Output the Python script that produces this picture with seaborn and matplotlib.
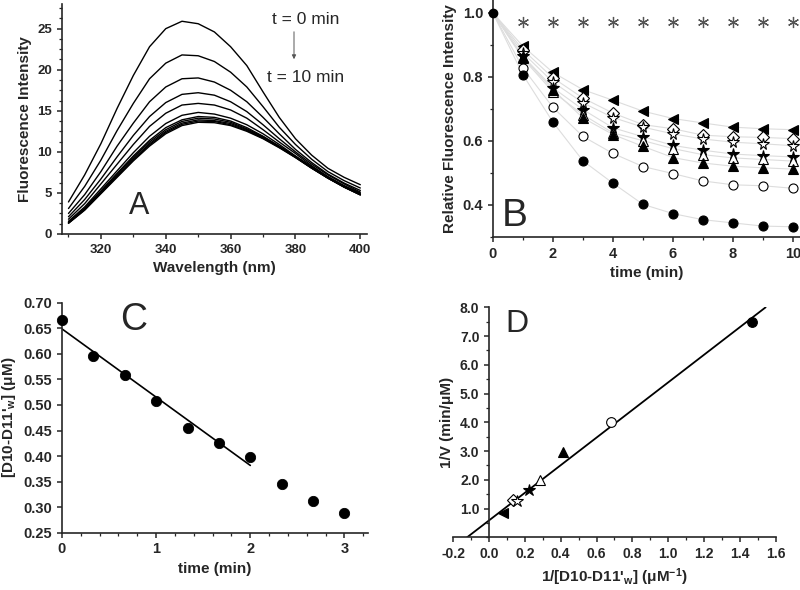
import numpy as np
import pandas as pd
import matplotlib
matplotlib.use('Agg')
import matplotlib.pyplot as plt
import seaborn as sns
from matplotlib.ticker import MultipleLocator, FormatStrFormatter

# Panel A: emission spectra, one every minute
wavelength = [310, 315, 320, 325, 330, 335, 340, 345, 350, 355, 360, 365, 370, 375, 380, 385, 390, 395, 400]
i_t0 = [3.9, 7.2, 11.0, 15.3, 19.3, 22.8, 25.0, 25.9, 25.6, 24.6, 22.8, 20.5, 17.3, 14.2, 11.6, 9.6, 8.0, 6.9, 6.0]
i_t1 = [3.1, 5.8, 9.0, 12.6, 15.9, 18.9, 20.8, 21.8, 21.7, 21.0, 19.7, 17.9, 15.5, 13.0, 10.9, 9.1, 7.6, 6.5, 5.6]
i_t2 = [2.5, 4.8, 7.6, 10.7, 13.5, 16.1, 17.9, 18.9, 19.0, 18.5, 17.5, 16.1, 14.2, 12.2, 10.3, 8.7, 7.3, 6.2, 5.3]
i_t3 = [2.1, 4.2, 6.7, 9.4, 12.0, 14.3, 16.0, 17.0, 17.2, 16.9, 16.1, 14.9, 13.3, 11.6, 10.0, 8.5, 7.2, 6.1, 5.1]
i_t4 = [1.8, 3.7, 6.1, 8.5, 10.9, 13.1, 14.7, 15.7, 15.9, 15.7, 15.1, 14.1, 12.7, 11.2, 9.8, 8.3, 7.0, 5.9, 5.0]
i_t5 = [1.55, 3.3, 5.5, 7.7, 9.9, 11.9, 13.45, 14.45, 14.8, 14.6, 14.1, 13.3, 12.2, 10.9, 9.5, 8.2, 6.9, 5.8, 4.9]
i_t6 = [1.45, 3.15, 5.25, 7.4, 9.5, 11.4, 12.95, 13.9, 14.3, 14.2, 13.75, 12.95, 11.9, 10.7, 9.45, 8.1, 6.85, 5.75, 4.8]
i_t7 = [1.4, 3.1, 5.15, 7.25, 9.35, 11.2, 12.7, 13.7, 14.1, 14.0, 13.6, 12.8, 11.85, 10.65, 9.4, 8.05, 6.85, 5.75, 4.8]
i_t8 = [1.35, 3.0, 5.05, 7.1, 9.15, 11.0, 12.5, 13.5, 13.9, 13.8, 13.45, 12.7, 11.75, 10.6, 9.35, 8.05, 6.8, 5.75, 4.8]
i_t9 = [1.33, 2.95, 4.97, 7.0, 9.0, 10.85, 12.35, 13.35, 13.75, 13.7, 13.3, 12.6, 11.65, 10.55, 9.33, 8.02, 6.81, 5.71, 4.77]
i_t10 = [1.3, 2.9, 4.9, 6.9, 8.9, 10.7, 12.2, 13.2, 13.6, 13.55, 13.2, 12.5, 11.6, 10.5, 9.3, 8.0, 6.8, 5.7, 4.75]

# Panel B: relative fluorescence vs time
time_b = [0, 1, 2, 3, 4, 5, 6, 7, 8, 9, 10]
rel_ast = [1.0, 0.971, 0.971, 0.971, 0.971, 0.971, 0.971, 0.971, 0.971, 0.971, 0.971]
rel_ltri = [1.0, 0.896, 0.814, 0.760, 0.727, 0.693, 0.670, 0.656, 0.643, 0.638, 0.635]
rel_diam = [1.0, 0.885, 0.797, 0.734, 0.687, 0.651, 0.638, 0.618, 0.613, 0.611, 0.607]
rel_ostar = [1.0, 0.875, 0.784, 0.719, 0.673, 0.643, 0.622, 0.606, 0.596, 0.591, 0.585]
rel_fstar = [1.0, 0.865, 0.766, 0.698, 0.641, 0.613, 0.586, 0.571, 0.559, 0.554, 0.550]
rel_otri = [1.0, 0.858, 0.753, 0.682, 0.625, 0.601, 0.576, 0.557, 0.547, 0.542, 0.537]
rel_ftri = [1.0, 0.862, 0.760, 0.672, 0.620, 0.583, 0.548, 0.531, 0.521, 0.516, 0.512]
rel_ocirc = [1.0, 0.828, 0.705, 0.614, 0.561, 0.520, 0.498, 0.475, 0.463, 0.460, 0.452]
rel_fcirc = [1.0, 0.807, 0.659, 0.538, 0.468, 0.402, 0.373, 0.354, 0.344, 0.334, 0.332]

# Panel C: concentration vs time
time_c = [0, 0.333, 0.667, 1.0, 1.333, 1.667, 2.0, 2.333, 2.667, 3.0]
conc_c = [0.666, 0.596, 0.558, 0.508, 0.455, 0.426, 0.398, 0.346, 0.313, 0.289]

# Panel D: double reciprocal plot (same symbols as panel B)
inv_conc = [0.079, 0.136, 0.155, 0.225, 0.284, 0.41, 0.68, 1.47]
inv_rate = [0.83, 1.29, 1.25, 1.66, 1.99, 2.97, 4.0, 7.49]
fit_slope = 4.80
fit_intercept = 0.59

sns.set_style('ticks')
plt.rcParams['font.family'] = ['Liberation Sans', 'DejaVu Sans']
plt.rcParams['font.weight'] = 'bold'
plt.rcParams['axes.labelweight'] = 'bold'
plt.rcParams['mathtext.fontset'] = 'custom'
plt.rcParams['mathtext.rm'] = 'Liberation Sans:bold'
plt.rcParams['mathtext.it'] = 'Liberation Sans:bold'
plt.rcParams['mathtext.bf'] = 'Liberation Sans:bold'
plt.rcParams['axes.linewidth'] = 1.2
plt.rcParams['xtick.major.width'] = 1.1
plt.rcParams['ytick.major.width'] = 1.1
plt.rcParams['xtick.minor.width'] = 0.9
plt.rcParams['ytick.minor.width'] = 0.9
plt.rcParams['xtick.major.size'] = 3.5
plt.rcParams['ytick.major.size'] = 3.5
plt.rcParams['xtick.minor.size'] = 2
plt.rcParams['ytick.minor.size'] = 2
plt.rcParams['xtick.direction'] = 'out'
plt.rcParams['ytick.direction'] = 'out'

fig = plt.figure(figsize=(8, 5.9), dpi=100)
axA = fig.add_axes([0.0775, 0.6034, 0.381, 0.3898])
axB = fig.add_axes([0.616, 0.5983, 0.384, 0.4017])
axC = fig.add_axes([0.0775, 0.0971, 0.3825, 0.3897])
axD = fig.add_axes([0.5666, 0.0893, 0.403, 0.3898])

for ax in (axA, axB, axC, axD):
    ax.spines['top'].set_visible(False)
    ax.spines['right'].set_visible(False)
    ax.set_facecolor('none')

# ---- A
spectra = [i_t0, i_t1, i_t2, i_t3, i_t4, i_t5, i_t6, i_t7, i_t8, i_t9, i_t10]
df_a = pd.DataFrame([(t, w, v) for t, s in enumerate(spectra) for w, v in zip(wavelength, s)],
                    columns=['t', 'wl', 'I'])
sns.lineplot(data=df_a, x='wl', y='I', units='t', estimator=None, color='black', lw=1.0, ax=axA)
axA.set_xlim(308, 402)
axA.set_ylim(0, 28)
axA.xaxis.set_major_locator(MultipleLocator(20))
axA.xaxis.set_minor_locator(MultipleLocator(10))
axA.yaxis.set_major_locator(MultipleLocator(5))
axA.yaxis.set_minor_locator(MultipleLocator(1.25))
axA.tick_params(labelsize=9.5)
axA.set_xlabel('Wavelength (nm)', fontsize=11)
axA.set_ylabel('Fluorescence Intensity', fontsize=11)

def px(x, y):
    return x / 800, 1 - y / 590

fig.text(*px(306, 19), 't = 0 min', ha='center', va='center', fontsize=12.5, fontweight='normal')
fig.text(*px(306, 77), 't = 10 min', ha='center', va='center', fontsize=12.5, fontweight='normal')
axA.annotate('', xy=px(294, 62), xycoords='figure fraction', xytext=px(294, 29),
             textcoords='figure fraction',
             arrowprops=dict(arrowstyle='-|>', color='#555555', lw=0.7, mutation_scale=6))

# ---- B
series_b = [
    (rel_ltri, '<', True, 7),
    (rel_diam, 'D', False, 6),
    (rel_ostar, '*', False, 8.5),
    (rel_fstar, '*', True, 8.5),
    (rel_otri, '^', False, 7),
    (rel_ftri, '^', True, 7),
    (rel_ocirc, 'o', False, 6.5),
    (rel_fcirc, 'o', True, 6.5),
]
for vals, mk, filled, ms in series_b:
    sns.lineplot(x=time_b, y=vals, color='#dddddd', lw=0.8, ax=axB)
for vals, mk, filled, ms in series_b:
    axB.plot(time_b[1:], vals[1:], ls='none', marker=mk, ms=ms, mec='black', mew=0.8,
             mfc='black' if filled else 'white', zorder=3)
axB.plot(time_b[:1], rel_fcirc[:1], ls='none', marker='o', ms=6, color='black', clip_on=False, zorder=3)
axB.plot(time_b[1:], rel_ast[1:], ls='none', marker=(6, 2, 0), ms=8, mec='#555555', mew=0.9, zorder=3)
axB.set_xlim(0, 10.23)
axB.set_ylim(0.30, 1.04)
axB.xaxis.set_major_locator(MultipleLocator(2))
axB.xaxis.set_minor_locator(MultipleLocator(1))
axB.yaxis.set_major_locator(MultipleLocator(0.2))
axB.yaxis.set_minor_locator(MultipleLocator(0.1))
axB.yaxis.set_major_formatter(FormatStrFormatter('%.1f'))
axB.tick_params(labelsize=10.5)
axB.set_xlabel('time (min)', fontsize=11)
axB.set_ylabel('Relative Fluorescence Intensity', fontsize=11)

# ---- C
sns.scatterplot(x=time_c, y=conc_c, color='black', s=55, edgecolor='black', ax=axC, clip_on=False, zorder=3)
coef = np.polyfit(time_c[:7], conc_c[:7], 1)
fit_t = [time_c[0], time_c[6]]
sns.lineplot(x=fit_t, y=np.polyval(coef, fit_t), color='black', lw=1.2, ax=axC)
axC.set_xlim(0, 3.25)
axC.set_ylim(0.25, 0.70)
axC.xaxis.set_major_locator(MultipleLocator(1))
axC.xaxis.set_minor_locator(MultipleLocator(0.2))
axC.yaxis.set_major_locator(MultipleLocator(0.05))
axC.yaxis.set_major_formatter(FormatStrFormatter('%.2f'))
axC.tick_params(labelsize=10.5)
axC.set_xlabel('time (min)', fontsize=11)
axC.set_ylabel("[D10-D11'$_{w}$] (μM)", fontsize=11)

# ---- D
for (vals, mk, filled, ms), xv, yv in zip(series_b, inv_conc, inv_rate):
    axD.plot([xv], [yv], ls='none', marker=mk, ms=ms + 0.5, mec='black', mew=0.8,
             mfc='black' if filled else 'white', zorder=3)
line_x = [-fit_intercept / fit_slope, (8 - fit_intercept) / fit_slope]
sns.lineplot(x=line_x, y=[fit_intercept + fit_slope * v for v in line_x], color='black', lw=1.3, ax=axD)
axD.spines['left'].set_position(('data', 0))
axD.set_xlim(-0.2, 1.6)
axD.set_ylim(0, 8)
axD.xaxis.set_major_locator(MultipleLocator(0.2))
axD.xaxis.set_minor_locator(MultipleLocator(0.1))
axD.set_yticks(np.arange(1, 8.01, 1))
axD.yaxis.set_minor_locator(MultipleLocator(0.5))
axD.xaxis.set_major_formatter(FormatStrFormatter('%.1f'))
axD.yaxis.set_major_formatter(FormatStrFormatter('%.1f'))
axD.tick_params(labelsize=10)
axD.set_xlabel("1/[D10-D11'$_{w}$] (μM$^{-1}$)", fontsize=11)
axD.set_ylabel('1/V (min/μM)', fontsize=11)

# panel letters
fig.text(*px(139, 206), 'A', ha='center', va='center', fontsize=22, fontweight='normal')
fig.text(*px(515, 216), 'B', ha='center', va='center', fontsize=28, fontweight='normal')
fig.text(*px(134, 320), 'C', ha='center', va='center', fontsize=27, fontweight='normal')
fig.text(*px(517, 324), 'D', ha='center', va='center', fontsize=23, fontweight='normal')

# bold tick labels
fig.canvas.draw()
for ax in (axA, axB, axC, axD):
    for lab in ax.get_xticklabels() + ax.get_yticklabels():
        lab.set_fontweight('bold')

fig.savefig('out.png', dpi=100)
